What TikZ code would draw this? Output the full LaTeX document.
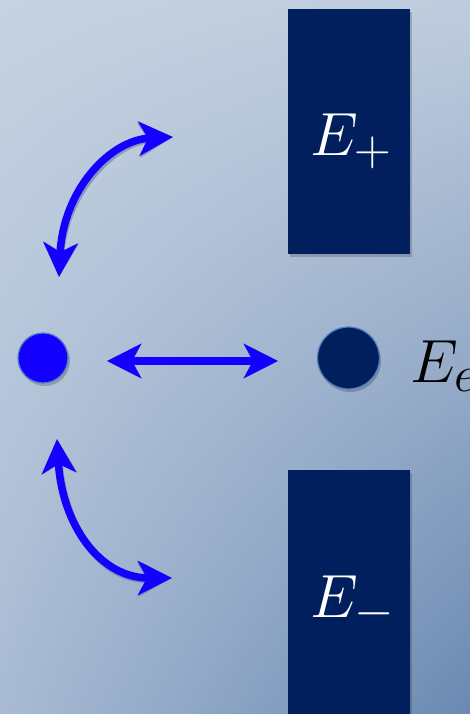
\documentclass[tikz,border=0pt]{standalone}
\usepackage{graphicx}
\usetikzlibrary{arrows.meta,shadings}
\definecolor{navy}{HTML}{001F5C}
\definecolor{bgTL}{HTML}{C6D2E1}
\definecolor{bgTR}{HTML}{BFCCDD}
\definecolor{bgBL}{HTML}{A9BBD4}
\definecolor{bgBR}{HTML}{6A89B2}
\definecolor{rimblue}{HTML}{4F7FC0}
\newcommand{\bigmath}[1]{\scalebox{2.45}{\Huge$#1$}}
\tikzset{
  bluearrow/.style={draw={rgb,255:red,20;green,0;blue,255}, line width=7.5pt,
    {Stealth[length=34pt,width=34pt,inset=9pt]}-{Stealth[length=34pt,width=34pt,inset=9pt]}},
  shadowarrow/.style={draw=black!60!blue, opacity=0.25, line width=7.5pt,
    {Stealth[length=34pt,width=34pt,inset=9pt]}-{Stealth[length=34pt,width=34pt,inset=9pt]}},
  level/.style={fill=navy, minimum width=122pt, draw=none, inner sep=0pt},
  lbl/.style={text=white, inner sep=0pt},
}
\begin{document}
\begin{tikzpicture}[x=1pt,y=-1pt]
\useasboundingbox (0,0) rectangle (470,714);
\shade[upper left=bgTL, upper right=bgTR, lower left=bgBL, lower right=bgBR] (0,0) rectangle (470,714);
% level boxes with soft shadow
\fill[black, opacity=0.18] (290,12) rectangle (412,257);
\fill[black, opacity=0.18] (290,473) rectangle (412,714);
\node[level, minimum height=245pt, anchor=north west] (up) at (287.5,9) {};
\node[level, minimum height=250pt, anchor=north west] (down) at (287.5,470) {};
\node[lbl, anchor=base west] (uplbl) at (310,156) {\bigmath{E_+}};
\node[lbl, anchor=base west] (downlbl) at (310,617) {\bigmath{E_-}};
% dots
\fill[black, opacity=0.2] (45,361) circle (25);
\fill[black, opacity=0.2] (350,361) circle (31);
\node[circle, fill={rgb,255:red,20;green,0;blue,255}, draw=rimblue, line width=1.2pt, minimum size=50pt, inner sep=0pt] (a) at (43,358) {};
\node[circle, fill=navy, draw=rimblue, line width=1.2pt, minimum size=62pt, inner sep=0pt] (b) at (348.5,358) {};
\node[anchor=base west, inner sep=0pt] (elbl) at (410,382) {\bigmath{E_e}};
% arrow anchor coordinates
\coordinate (hl) at (107,361);
\coordinate (hr) at (278,361);
\coordinate (t1) at (59,277);
\coordinate (t2) at (173,137);
\coordinate (l1) at (57,439);
\coordinate (l2) at (172,578);
% shadows
\begin{scope}[shift={(2,3)}]
\draw[shadowarrow] (hl) -- (hr);
\draw[shadowarrow] (t1) .. controls (63,190) and (110,140) .. (t2);
\draw[shadowarrow] (l1) .. controls (62,525) and (100,578) .. (l2);
\end{scope}
% arrows
\draw[bluearrow] (hl) -- (hr);
\draw[bluearrow] (t1) .. controls (63,190) and (110,140) .. (t2);
\draw[bluearrow] (l1) .. controls (62,525) and (100,578) .. (l2);
\end{tikzpicture}
\end{document}
